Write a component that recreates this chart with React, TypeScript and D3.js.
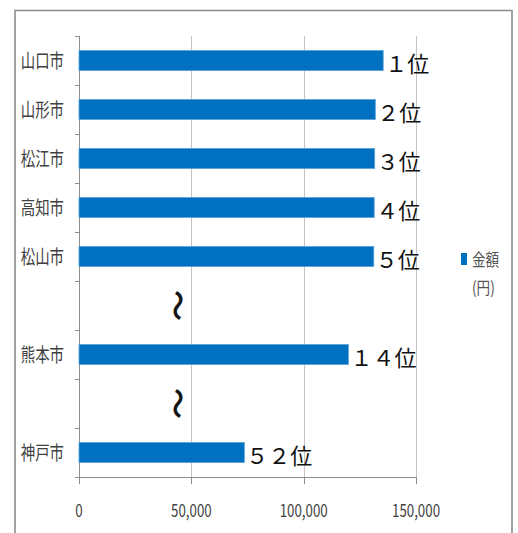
import { useEffect, useRef } from "react";
import * as d3 from "d3";

// slots on the category axis, "gap" rows hold the wavy break marks
const slots = ["山口市", "山形市", "松江市", "高知市", "松山市", "gap1", "熊本市", "gap2", "神戸市"];
const cities = ["山口市", "山形市", "松江市", "高知市", "松山市", "熊本市", "神戸市"];
const amounts = [135400, 131900, 131600, 131400, 131200, 119900, 73600];
const ranks = ["１位", "２位", "３位", "４位", "５位", "１４位", "５２位"];
const xTicks = [0, 50000, 100000, 150000];
const gaps = ["gap1", "gap2"];
const legendName = "金額";
const unitLabel = "(円)";

const FONT = "'Noto Sans CJK JP', 'Noto Sans', sans-serif";

export default function App() {
  const svgRef = useRef<SVGSVGElement | null>(null);

  useEffect(() => {
    if (!svgRef.current) return;
    const svg = d3.select(svgRef.current);
    svg.selectAll("*").remove();

    const width = 518;
    const height = 533;
    const plot = { left: 79, right: 416, top: 36, bottom: 477 };

    svg.attr("width", width).attr("height", height);

    // outer frame (bottom edge runs off the picture)
    svg
      .append("path")
      .attr("d", `M15,540 V10.5 H512 V540`)
      .attr("fill", "none")
      .attr("stroke", "#8c8c8c")
      .attr("stroke-width", 1.6);

    const x = d3.scaleLinear().domain([0, 150000]).range([plot.left, plot.right]);
    const y = d3.scaleBand().domain(slots).range([plot.top, plot.bottom]).padding(0);
    const barH = y.bandwidth() * 0.41;

    // gridlines
    svg
      .append("g")
      .selectAll("line")
      .data(xTicks.slice(1))
      .enter()
      .append("line")
      .attr("x1", (d) => Math.round(x(d)) + 0.5)
      .attr("x2", (d) => Math.round(x(d)) + 0.5)
      .attr("y1", plot.top)
      .attr("y2", plot.bottom)
      .attr("stroke", "#c4c4c4")
      .attr("stroke-width", 1);

    // y axis line + ticks at band boundaries
    const yAxis = svg.append("g").attr("stroke", "#8c8c8c").attr("stroke-width", 1);
    yAxis
      .append("line")
      .attr("x1", plot.left + 0.5)
      .attr("x2", plot.left + 0.5)
      .attr("y1", plot.top)
      .attr("y2", plot.bottom);
    const boundaries = slots.map((s) => y(s) as number);
    yAxis
      .selectAll("line.tick")
      .data(boundaries)
      .enter()
      .append("line")
      .attr("class", "tick")
      .attr("x1", plot.left - 4)
      .attr("x2", plot.left)
      .attr("y1", (d) => Math.round(d) + 0.5)
      .attr("y2", (d) => Math.round(d) + 0.5);

    // x axis line + ticks
    const xAxis = svg.append("g").attr("stroke", "#8c8c8c").attr("stroke-width", 1);
    xAxis
      .append("line")
      .attr("x1", plot.left - 4)
      .attr("x2", plot.right)
      .attr("y1", plot.bottom + 0.5)
      .attr("y2", plot.bottom + 0.5);
    xAxis
      .selectAll("line.tick")
      .data(xTicks)
      .enter()
      .append("line")
      .attr("class", "tick")
      .attr("x1", (d) => Math.round(x(d)) + 0.5)
      .attr("x2", (d) => Math.round(x(d)) + 0.5)
      .attr("y1", plot.bottom)
      .attr("y2", plot.bottom + 7);

    // x tick labels
    svg
      .append("g")
      .selectAll("text")
      .data(xTicks)
      .enter()
      .append("text")
      .attr("transform", (d) => `translate(${x(d)},517) scale(0.74,1)`)
      .attr("text-anchor", "middle")
      .attr("font-family", FONT)
      .attr("font-size", 18)
      .attr("fill", "#404040")
      .text((d) => d3.format(",")(d));

    const rows = cities.map((c, i) => ({ city: c, amount: amounts[i], rank: ranks[i] }));

    // bars
    svg
      .append("g")
      .selectAll("rect")
      .data(rows)
      .enter()
      .append("rect")
      .attr("x", x(0))
      .attr("y", (d) => (y(d.city) as number) + (y.bandwidth() - barH) / 2)
      .attr("width", (d) => x(d.amount) - x(0))
      .attr("height", barH)
      .attr("fill", "#0070c0")
      .attr("stroke", "#5aa3dc")
      .attr("stroke-width", 0.8);

    // city labels
    svg
      .append("g")
      .selectAll("text")
      .data(rows)
      .enter()
      .append("text")
      .attr(
        "transform",
        (d) => `translate(64,${(y(d.city) as number) + y.bandwidth() / 2 + 7}) scale(0.76,1)`
      )
      .attr("text-anchor", "end")
      .attr("font-family", FONT)
      .attr("font-size", 19)
      .attr("fill", "#404040")
      .text((d) => d.city);

    // rank labels
    svg
      .append("g")
      .selectAll("text")
      .data(rows)
      .enter()
      .append("text")
      .attr("x", (d) => x(d.amount) + 2)
      .attr("y", (d) => (y(d.city) as number) + y.bandwidth() / 2 + 11)
      .attr("font-family", FONT)
      .attr("font-size", 22)
      .attr("fill", "#111")
      .text((d) => d.rank);

    // wavy break marks
    svg
      .append("g")
      .selectAll("text")
      .data(gaps)
      .enter()
      .append("text")
      .attr(
        "transform",
        (d) => `translate(177,${(y(d) as number) + y.bandwidth() / 2}) rotate(90)`
      )
      .attr("text-anchor", "middle")
      .attr("dy", "0.35em")
      .attr("font-family", FONT)
      .attr("font-size", 30)
      .attr("fill", "#111")
      .attr("stroke", "#111")
      .attr("stroke-width", 0.9)
      .text("〜");

    // legend
    svg
      .append("rect")
      .attr("x", 461)
      .attr("y", 253)
      .attr("width", 6)
      .attr("height", 12)
      .attr("fill", "#0070c0");
    svg
      .append("text")
      .attr("transform", "translate(472,265.5) scale(0.8,1)")
      .attr("font-family", FONT)
      .attr("font-size", 17)
      .attr("fill", "#555")
      .text(legendName);
    svg
      .append("text")
      .attr("transform", "translate(472,294) scale(0.8,1)")
      .attr("font-family", FONT)
      .attr("font-size", 17)
      .attr("fill", "#555")
      .text(unitLabel);
  }, []);

  return (
    <svg
      ref={svgRef}
      style={{ position: "absolute", left: 0, top: 0, display: "block", background: "#fff" }}
    ></svg>
  );
}
